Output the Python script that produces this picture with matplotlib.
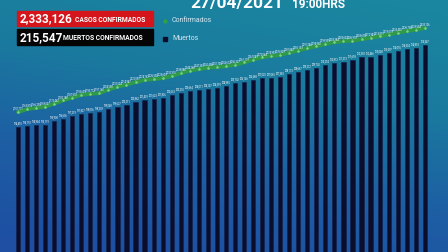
import numpy as np
import matplotlib
matplotlib.use("Agg")
import matplotlib.pyplot as plt
from matplotlib.colors import LinearSegmentedColormap

# daily cumulative figures (13/03/2021 - 27/04/2021)
confirmados = [2157771, 2163875, 2166290, 2169007, 2175462, 2182188, 2187910, 2193639,
               2195772, 2197160, 2204598, 2210524, 2214947, 2220091, 2224767, 2226550,
               2228629, 2232910, 2238886, 2244268, 2247357, 2250458, 2251705, 2253612,
               2256337, 2261119, 2267049, 2272064, 2274997, 2276809, 2281840, 2286133,
               2291246, 2294950, 2299939, 2303384, 2305602, 2306910, 2309678, 2312941,
               2315811, 2319519, 2323430, 2326738, 2329534, 2333126]
muertos = [194490, 194710, 194944, 195119, 195908, 196606, 197219, 197827, 198036, 198239,
           199048, 199627, 200211, 200862, 201429, 201623, 201826, 202633, 203210, 203664,
           204011, 204147, 204399, 204985, 205702, 206146, 206568, 207020, 207065, 207383,
           208173, 208667, 209212, 209702, 210294, 210812, 211213, 211693, 212339, 212466,
           213048, 213597, 214095, 214504, 214853, 215547]

total_casos = "2,333,126"
total_muertos = "215,547"
fecha = "27/04/2021"
hora = "19:00HRS"

plt.rcParams['font.family'] = ['Roboto', 'DejaVu Sans']

W, H = 448, 252
fig = plt.figure(figsize=(W / 100, H / 100), dpi=100)

# background gradient
bg = fig.add_axes([0, 0, 1, 1])
bg.axis('off')
cmap = LinearSegmentedColormap.from_list('bg', ['#1e4fa2', '#1d5fa4', '#1a7a9e', '#1b86a0'])
yy = np.linspace(0, 1, 200)[:, None]
xx = np.linspace(0, 1, 300)[None, :]
grad = np.clip(yy * 0.85 + xx * 0.25 - 0.05, 0, 1)
bg.imshow(grad, cmap=cmap, aspect='auto', extent=[0, 1, 0, 1], origin='lower')
bg.set_xlim(0, 1)
bg.set_ylim(0, 1)

x = np.arange(len(muertos))
sp = 9.04
xl = (-18 / sp, (W - 18) / sp)

# deaths bars
ax = fig.add_axes([0, 0, 1, 1])
ax.patch.set_alpha(0)
ax.axis('off')
ax.bar(x, muertos, width=0.46, color='#0a0e2c', edgecolor='#14204a', linewidth=0.4)
for i, v in zip(x, muertos):
    ax.text(i, v + 500, f"{v:,}", color='white', fontsize=1.8, ha='center', va='bottom')
ax.set_xlim(*xl)
ax.set_ylim(162390, 227104)

# confirmed line
ax2 = fig.add_axes([0, 0, 1, 1])
ax2.patch.set_alpha(0)
ax2.axis('off')
ax2.plot(x, confirmados, color='#2f9a48', lw=2.8, solid_capstyle='round')
ax2.plot(x, confirmados, 'o', color='#7fd38e', ms=0.8)
for i, v in zip(x, confirmados):
    ax2.text(i, v + 3500, f"{v:,}", color='white', fontsize=1.8, ha='center', va='bottom')
ax2.set_xlim(*xl)
ax2.set_ylim(1865507, 2391582)

# header
ov = fig.add_axes([0, 0, 1, 1])
ov.patch.set_alpha(0)
ov.axis('off')
ov.set_xlim(0, W)
ov.set_ylim(H, 0)
ov.add_patch(plt.Rectangle((17, 11), 136, 15, color='#d4161c'))
ov.add_patch(plt.Rectangle((17, 29), 136, 16, color='#050505'))
ov.text(20, 19, total_casos, color='white', fontsize=8.5, fontweight='bold', va='center')
ov.text(75, 19.5, "CASOS CONFIRMADOS", color='white', fontsize=4.9, fontweight='bold', va='center')
ov.text(20, 37.5, total_muertos, color='white', fontsize=8.5, fontweight='bold', va='center')
ov.text(63, 38, "MUERTOS CONFIRMADOS", color='white', fontsize=4.9, fontweight='bold', va='center')

ov.plot([165], [21], 'o', color='#2fa04a', ms=2.2)
ov.plot([165], [39], 's', color='#0a0e2c', ms=2.2)
ov.text(172, 21, "Confirmados", color='#d6e6f2', fontsize=5, va='center')
ov.text(172, 39, "Muertos", color='#d6e6f2', fontsize=5, va='center')

ov.text(190, 8, fecha, color='white', fontsize=12.5, fontweight='bold', va='baseline')
ov.text(292, 8, hora, color='white', fontsize=8.5, fontweight='bold', va='baseline')

fig.savefig('out.png', dpi=100)
